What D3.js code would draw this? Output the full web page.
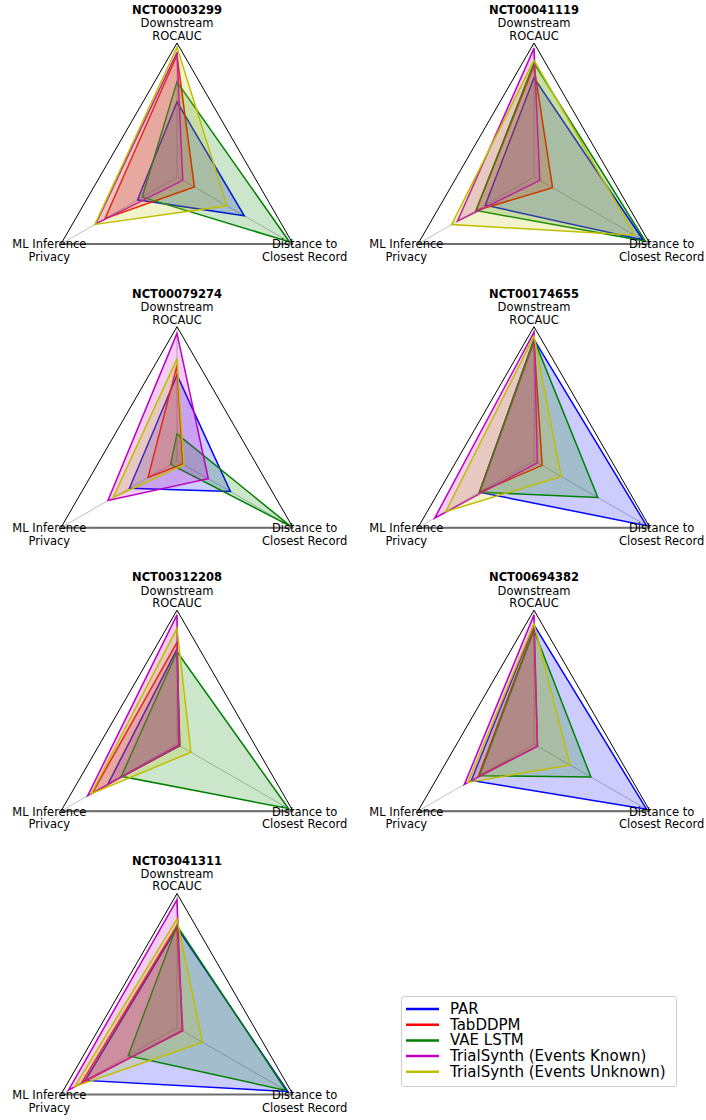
<!DOCTYPE html>
<html>
<head>
<meta charset="utf-8">
<script src="https://cdn.jsdelivr.net/npm/d3@7/dist/d3.min.js"></script>
<style>
  html, body { margin: 0; padding: 0; background: #fff; }
  svg { display: block; }
  text { font-family: "DejaVu Sans", sans-serif; fill: #000; }
</style>
</head>
<body>
<svg id="chart" width="706" height="1120"></svg>
<script>
// Trials, one radar per trial
const trials = ["NCT00003299", "NCT00041119", "NCT00079274", "NCT00174655",
                "NCT00312208", "NCT00694382", "NCT03041311"];

// Radar axes (top, bottom-left, bottom-right)
const metrics = [
  ["Downstream", "ROCAUC"],
  ["ML Inference", "Privacy"],
  ["Distance to", "Closest Record"]
];

const models = ["PAR", "TabDDPM", "VAE LSTM",
                "TrialSynth (Events Known)", "TrialSynth (Events Unknown)"];
const colors = ["#0000ff", "#ff0000", "#008000", "#bf00bf", "#bfbf00"];

// Scores per trial: [ROCAUC, ML inference privacy, distance to closest record]
const parScores = [
  [0.56, 0.34, 0.58], [0.74, 0.42, 0.94], [0.64, 0.41, 0.46], [0.905, 0.47, 0.97],
  [0.71, 0.595, 0.025], [0.89, 0.54, 0.97], [0.745, 0.79, 0.955]
];
const tabddpmScores = [
  [0.91, 0.62, 0.15], [0.83, 0.50, 0.16], [0.71, 0.25, 0.05], [0.89, 0.47, 0.07],
  [0.76, 0.73, 0.02], [0.865, 0.48, 0.03], [0.76, 0.82, 0.05]
];
const vaeLstmScores = [
  [0.71, 0.30, 0.97], [0.85, 0.50, 0.96], [0.20, 0.055, 0.98], [0.905, 0.47, 0.55],
  [0.69, 0.48, 0.96], [0.85, 0.47, 0.49], [0.76, 0.42, 0.94]
];
const eventsKnownScores = [
  [0.93, 0.70, 0.05], [0.96, 0.66, 0.05], [0.95, 0.595, 0.27], [0.96, 0.856, 0.03],
  [0.965, 0.77, 0.015], [0.965, 0.60, 0.03], [0.955, 0.935, 0.045]
];
const eventsUnknownScores = [
  [0.968, 0.707, 0.43], [0.87, 0.71, 0.87], [0.76, 0.55, 0.06], [0.93, 0.76, 0.235],
  [0.865, 0.74, 0.12], [0.90, 0.57, 0.31], [0.81, 0.88, 0.22]
];
const seriesScores = [parScores, tabddpmScores, vaeLstmScores, eventsKnownScores, eventsUnknownScores];

// ---- layout ----
const R = 134;
const colX = [177, 534];
const rowY = [177, 460.7, 744.2, 1027.5];

const svg = d3.select("#chart");
const r = d3.scaleLinear().domain([0, 1]).range([0, R]);
// angle of each axis, clockwise from 12 o'clock
const angle = d3.scalePoint().domain([0, 2, 1]).range([0, 4 * Math.PI / 3]);

const radial = d3.lineRadial()
  .angle((d, i) => angle(i))
  .radius(d => r(d))
  .curve(d3.curveLinearClosed);

function pt(i, v) {
  const a = angle(i);
  return [r(v) * Math.sin(a), -r(v) * Math.cos(a)];
}

trials.forEach((trial, t) => {
  const g = svg.append("g")
    .attr("transform", `translate(${colX[t % 2]},${rowY[Math.floor(t / 2)]})`);

  // spokes
  metrics.forEach((m, i) => {
    const [x, y] = pt(i, 1);
    g.append("line").attr("x1", 0).attr("y1", 0).attr("x2", x).attr("y2", y)
      .attr("stroke", "#b0b0b0").attr("stroke-width", 0.8);
  });

  // series
  seriesScores.forEach((scores, s) => {
    const vals = scores[t];
    g.append("path").attr("d", radial(vals))
      .attr("fill", colors[s]).attr("fill-opacity", 0.2).attr("stroke", "none");
    g.append("path").attr("d", radial(vals))
      .attr("fill", "none").attr("stroke", colors[s]).attr("stroke-width", 1.5)
      .attr("stroke-linejoin", "miter");
  });

  // frame
  g.append("path").attr("d", radial([1, 1, 1]))
    .attr("fill", "none").attr("stroke", "#000").attr("stroke-width", 1);
  const [lx, ly] = pt(1, 1), [rx, ry] = pt(2, 1);
  g.append("line").attr("x1", lx).attr("y1", ly).attr("x2", rx).attr("y2", ry)
    .attr("stroke", "#6e6e6e").attr("stroke-width", 2);

  // axis labels
  metrics.forEach((m, i) => {
    const [x, y] = pt(i, 1.1);
    m.forEach((line, k) => {
      g.append("text").attr("x", x).attr("y", y + (k - 0.5) * 12.6)
        .attr("text-anchor", "middle").attr("dominant-baseline", "central")
        .attr("font-size", 11.5).text(line);
    });
  });

  // title
  g.append("text").attr("x", 0).attr("y", -R - 33)
    .attr("text-anchor", "middle").attr("dominant-baseline", "central")
    .attr("font-size", 11.5).attr("font-weight", "bold").text(trial);
});

// ---- legend ----
const lg = svg.append("g").attr("transform", "translate(401.5,996.5)");
lg.append("rect").attr("width", 275).attr("height", 90).attr("rx", 3)
  .attr("fill", "#fff").attr("fill-opacity", 0.8)
  .attr("stroke", "#cccccc").attr("stroke-width", 1);
models.forEach((name, i) => {
  const y = 12.5 + i * 15.7;
  lg.append("line").attr("x1", 4.5).attr("x2", 37.5).attr("y1", y).attr("y2", y)
    .attr("stroke", colors[i]).attr("stroke-width", 2.5);
  lg.append("text").attr("x", 48.5).attr("y", y)
    .attr("dominant-baseline", "central").attr("font-size", 15).text(name);
});
</script>
</body>
</html>
